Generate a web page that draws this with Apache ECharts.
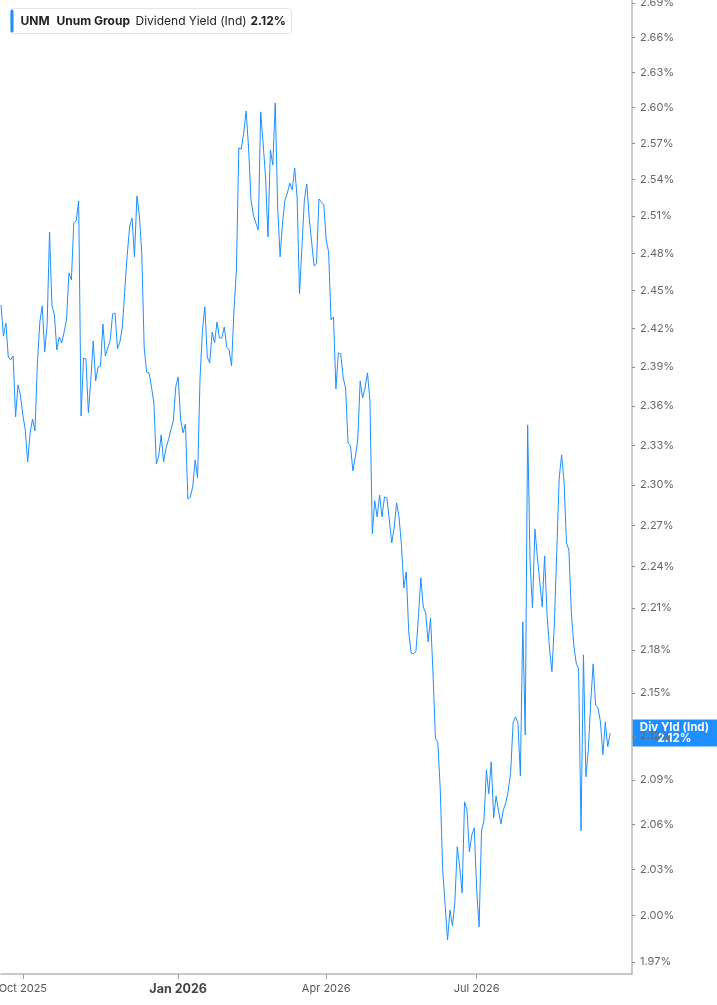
<!DOCTYPE html>
<html>
<head>
<meta charset="utf-8">
<script src="https://cdn.jsdelivr.net/npm/echarts@6/dist/echarts.min.js"></script>
<style>
html,body{margin:0;padding:0;background:#ffffff;}
#c{width:717px;height:1005px;}
</style>
</head>
<body>
<div id="c"></div>
<script>
// ---- data ----
const startDate = '2025-09-18';
const endDate = '2026-10-01';
const holidays = ['2025-11-27','2025-12-25','2026-01-01','2026-01-19','2026-02-16',
  '2026-04-03','2026-05-25','2026-06-19','2026-07-03','2026-09-07'];
const quarterLabels = {'2025-10':'Oct 2025','2026-01':'Jan 2026','2026-04':'Apr 2026','2026-07':'Jul 2026'};
const yTickLabels = [2.69,2.66,2.63,2.60,2.57,2.54,2.51,2.48,2.45,2.42,2.39,2.36,2.33,2.30,
  2.27,2.24,2.21,2.18,2.15,2.12,2.09,2.06,2.03,2.00,1.97];
const ticker = 'UNM';
const company = 'Unum Group';
const metric = 'Dividend Yield (Ind)';
const tagLabel = 'Div Yld (Ind)';
const yieldValues = [
 2.4387,2.4142,2.4244,2.3978,2.3955,2.3986,2.3516,2.3761,2.3684,2.3531,
 2.3417,2.3174,2.3394,2.3500,2.3409,2.3931,2.4252,2.4379,2.4017,2.4228,
 2.4972,2.4379,2.4308,2.4033,2.4134,2.4088,2.4173,2.4268,2.4642,2.4586,
 2.5045,2.5061,2.5225,2.3523,2.3970,2.3963,2.3546,2.3800,2.4103,2.3792,
 2.3900,2.3908,2.4236,2.3986,2.4048,2.4111,2.4315,2.4323,2.4041,2.4095,
 2.4213,2.4506,2.4786,2.5012,2.5085,2.4770,2.5266,2.5110,2.4802,2.4048,
 2.3861,2.3854,2.3746,2.3622,2.3159,2.3220,2.3379,2.3174,2.3280,2.3341,
 2.3417,2.3485,2.3746,2.3823,2.3500,2.3394,2.3462,2.2897,2.2912,2.2987,
 2.3189,2.3054,2.3807,2.4189,2.4371,2.3978,2.3931,2.4173,2.4088,2.4252,
 2.4127,2.4127,2.4213,2.4056,2.4033,2.3908,2.4347,2.4666,2.5663,2.5654,
 2.5788,2.5973,2.5671,2.5233,2.5110,2.5045,2.4988,2.5965,2.5704,2.5422,
 2.4931,2.5646,2.5521,2.6041,2.5175,2.4770,2.5045,2.5233,2.5290,2.5372,
 2.5315,2.5496,2.5257,2.4474,2.4850,2.5233,2.5364,2.5085,2.4891,2.4698,
 2.4714,2.5241,2.5216,2.5192,2.4907,2.4810,2.4268,2.4292,2.3730,2.4009,
 2.4002,2.3815,2.3738,2.3318,2.3295,2.3107,2.3212,2.3341,2.3792,2.3661,
 2.3738,2.3854,2.3646,2.2639,2.2883,2.2764,2.2927,2.2764,2.2912,2.2905,
 2.2741,2.2573,2.2682,2.2868,2.2764,2.2558,2.2245,2.2361,2.1930,2.1780,
 2.1773,2.1794,2.2037,2.2318,2.2108,2.2065,2.1858,2.2029,2.1640,2.1187,
 2.1153,2.0833,2.0298,2.0069,1.9842,2.0036,1.9932,2.0082,2.0451,2.0318,
 2.0147,2.0752,2.0698,2.0417,2.0530,2.0577,2.0167,1.9926,2.0557,2.0624,
 2.0968,2.0806,2.1023,2.0644,2.0792,2.0691,2.0603,2.0698,2.0745,2.0826,
 2.0948,2.1291,2.1332,2.1291,2.0927,2.2001,2.1208,2.3455,2.2434,2.2101,
 2.2675,2.2470,2.2289,2.2108,2.2478,2.2051,2.1816,2.1647,2.1980,2.2507,
 2.3054,2.3227,2.3024,2.2573,2.2521,2.2072,2.1837,2.1710,2.1668,2.0557,
 2.1766,2.0921,2.1105,2.1436,2.1703,2.1415,2.1395,2.1298,2.1071,2.1298,
 2.1126,2.1221
];

// ---- trading-day categories ----
function buildDates() {
  const out = [];
  const hol = new Set(holidays);
  const d = new Date(startDate + 'T00:00:00Z');
  const end = new Date(endDate + 'T00:00:00Z');
  while (d <= end) {
    const wd = d.getUTCDay();
    const s = d.toISOString().slice(0, 10);
    if (wd !== 0 && wd !== 6 && !hol.has(s)) out.push(s);
    d.setUTCDate(d.getUTCDate() + 1);
  }
  return out;
}
const dates = buildDates();
const quarterStart = new Set();
let prevMonth = '';
dates.forEach(function (s) {
  const m = s.slice(0, 7);
  if (m !== prevMonth) { if (quarterLabels[m]) quarterStart.add(s); prevMonth = m; }
});

// log-scaled axis: plot ln(value) on a value axis
const lnValues = yieldValues.map(function (v) { return Math.log(v); });
const tickLn = yTickLabels.map(function (v) { return Math.log(v); });
const yMax = Math.log(2.6926);
const yMin = Math.log(1.9623);
const lastVal = yieldValues[yieldValues.length - 1];
const lastText = lastVal.toFixed(2) + '%';
const BLUE = '#1e8fff';
const FONT = 'Inter';

const chart = echarts.init(document.getElementById('c'), null, {renderer: 'canvas'});

const legendGraphic = {
  type: 'group', left: 10, top: 8, z: 100,
  children: [
    {type: 'rect', shape: {x: 0, y: 0, width: 281, height: 25, r: 3},
     style: {fill: '#ffffff', stroke: '#e4e4e4', lineWidth: 1}},
    {type: 'rect', shape: {x: 0, y: 1, width: 3, height: 23, r: 1.5}, style: {fill: BLUE}},
    {type: 'text', x: 10, y: 13, style: {text: ticker, fontSize: 12, fontWeight: 'bold', fontFamily: FONT, fill: '#222', verticalAlign: 'middle'}},
    {type: 'text', x: 46, y: 13, style: {text: company, fontSize: 12, fontWeight: 'bold', fontFamily: FONT, fill: '#222', verticalAlign: 'middle'}},
    {type: 'text', x: 125, y: 13, style: {text: metric, fontSize: 12, fontWeight: 'normal', fontFamily: FONT, fill: '#222', verticalAlign: 'middle'}},
    {type: 'text', x: 240, y: 13, style: {text: lastText, fontSize: 12, fontWeight: 'bold', fontFamily: FONT, fill: '#222', verticalAlign: 'middle'}}
  ]
};

const option = {
  animation: false,
  backgroundColor: '#ffffff',
  grid: {left: 1, right: 85, top: 0, bottom: 31, containLabel: false, outerBoundsMode: 'none'},
  xAxis: {
    type: 'category',
    data: dates,
    boundaryGap: false,
    axisLine: {show: true, lineStyle: {color: '#b8b8b8', width: 1.5}},
    axisTick: {show: true, interval: function (i, v) { return quarterStart.has(v); }, length: 5, lineStyle: {color: '#a0a0a0'}},
    axisLabel: {
      interval: function (i, v) { return quarterStart.has(v); },
      formatter: function (v) {
        const lbl = quarterLabels[v.slice(0, 7)] || '';
        return lbl.indexOf('Jan') === 0 ? '{b|' + lbl + '}' : lbl;
      },
      color: '#555', fontSize: 11, fontFamily: FONT, margin: 9,
      rich: {b: {fontWeight: 'bold', fontSize: 12.5, color: '#444', fontFamily: FONT}}
    },
    splitLine: {show: false}
  },
  yAxis: {
    type: 'value',
    position: 'right',
    min: yMin,
    max: yMax,
    axisLine: {show: true, lineStyle: {color: '#b8b8b8', width: 1.5}},
    axisTick: {show: true, customValues: tickLn, length: 3, lineStyle: {color: '#888'}},
    axisLabel: {
      customValues: tickLn,
      formatter: function (v) { return Math.exp(v).toFixed(2) + '%'; },
      color: '#666', fontSize: 11, fontFamily: FONT, margin: 8
    },
    splitLine: {show: false}
  },
  series: [{
    type: 'line',
    data: lnValues,
    showSymbol: false,
    symbol: 'none',
    lineStyle: {color: BLUE, width: 1},
    itemStyle: {color: BLUE},
    clip: true
  }],
  graphic: [legendGraphic]
};

chart.setOption(option);

// end-of-line value tag on the y axis
const yPix = chart.convertToPixel({yAxisIndex: 0}, lnValues[lnValues.length - 1]);
option.graphic = [legendGraphic, {
  type: 'group', x: 632, y: yPix - 13.5, z: 100,
  children: [
    {type: 'rect', shape: {x: 0, y: 0, width: 85, height: 27}, style: {fill: BLUE}},
    {type: 'text', x: 42.5, y: 8, style: {text: tagLabel, fontSize: 11.5, fontWeight: 'bold', fontFamily: FONT, fill: '#fff', align: 'center', verticalAlign: 'middle'}},
    {type: 'text', x: 42.5, y: 19.5, style: {text: lastText, fontSize: 11.5, fontWeight: 'bold', fontFamily: FONT, fill: '#fff', align: 'center', verticalAlign: 'middle'}}
  ]
}];
chart.setOption(option, true);
</script>
</body>
</html>
